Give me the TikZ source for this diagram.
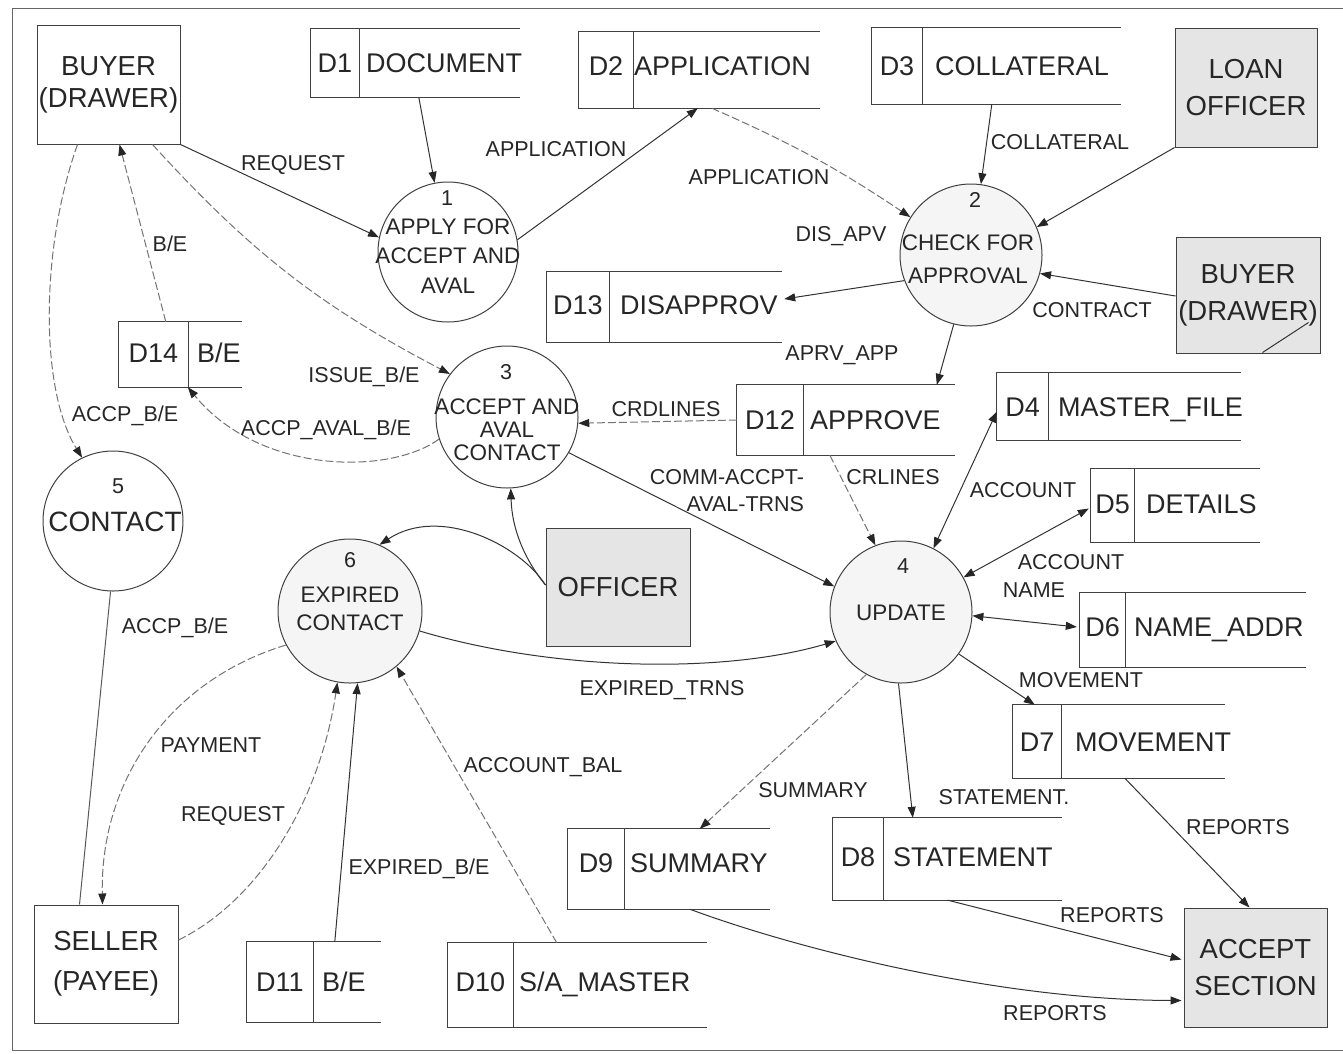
\documentclass[tikz,border=0pt]{standalone}
\usepackage{fontspec}
\setmainfont{Liberation Sans}
\usetikzlibrary{arrows.meta,calc}

\newcommand\fstore{\fontsize{27}{30}\selectfont}
\newcommand\fent{\fontsize{27.5}{37}\selectfont}
\newcommand\flab{\fontsize{21.5}{26}\selectfont}
\newcommand\fproc[1]{\fontsize{22.5}{#1}\selectfont}
\newcommand\stshift{0}

% data store: name, left, divider, right, top, bottom, id, title, gap
\newcommand\datastore[9]{%
  \node[inner sep=0, minimum width={#4pt-#2pt}, minimum height={#6pt-#5pt}] (#1) at ({(#2+#4)/2},{(#5+#6)/2}) {};
  \draw[storeline] (#1.north east) -- (#1.north west) -- (#1.south west) -- (#1.south east);
  \draw[storeline] (#3,#5) -- (#3,#6);
  \node[stxt] (#1-id) at ({(#2+#3)/2},{(#5+#6)/2+\stshift}) {#7};
  \node[stxt, anchor=west] (#1-name) at (#3+#9,{(#5+#6)/2+\stshift}) {#8};
}

\begin{document}
\begin{tikzpicture}[x=1pt,y=-1pt,
  every node/.style={text=black!85},
  tip/.tip={Triangle[length=11pt,width=8pt,color=black!85]},
  line/.style={draw=black!80, line width=1pt},
  faint/.style={draw=black!55, line width=1pt, dash pattern=on 8pt off 3pt},
  flow/.style={-tip},
  both/.style={tip-tip},
  storeline/.style={draw=black!75, line width=1pt},
  stxt/.style={font=\fstore, inner sep=0, text height=19pt, text depth=0pt},
  entity/.style={draw=black!75, line width=1pt, inner sep=0, align=center, font=\fent},
  shaded/.style={fill=black!10},
  proc/.style={circle, draw=black!75, line width=1pt, inner sep=0},
  lightfill/.style={fill=black!4},
  ptext/.style={inner sep=0, align=center},
  lbl/.style={font=\flab, inner sep=0, text height=15.5pt, text depth=0pt},
  frame/.style={draw=black!60, line width=1pt}]

\useasboundingbox (0,0) rectangle (1343,1053);
\draw[frame] (1343,8) -- (12,8) -- (12,1050) -- (1343,1050);

% external entities
\node[entity, minimum width=143, minimum height=119, font=\fontsize{27.5}{32}\selectfont] (buyer1) at (108.5,84.5) {BUYER\\(DRAWER)};
\node[entity, shaded, minimum width=142, minimum height=119] (loan) at (1246,87.5) {LOAN\\OFFICER};
\node[entity, shaded, minimum width=144, minimum height=116] (buyer2) at (1248,295) {BUYER\\(DRAWER)};
\node[entity, shaded, minimum width=144, minimum height=118] (officer) at (618,587) {OFFICER};
\node[entity, minimum width=144, minimum height=118, font=\fontsize{27.5}{40}\selectfont] (seller) at (106,964) {SELLER\\(PAYEE)};
\node[entity, shaded, minimum width=143, minimum height=119] (accept) at (1255.5,967.5) {ACCEPT\\SECTION};
\draw[line] ($(buyer2.south west)+(87,-1)$) -- ($(buyer2.south east)+(-12,-31)$);

% processes
\node[proc, minimum size=140] (p1) at (448,252) {};
\node[proc, lightfill, minimum size=142] (p2) at (971,255) {};
\node[proc, minimum size=142] (p3) at (507,417) {};
\node[proc, lightfill, minimum size=142] (p4) at (901,612) {};
\node[proc, minimum size=140] (p5) at (113,521) {};
\node[proc, lightfill, minimum size=144] (p6) at (350,611) {};

\node[lbl] (p1-n) at (447,198) {1};
\node[ptext, font=\fproc{29.5}] (p1-t) at (448,256) {APPLY FOR\\ACCEPT AND\\AVAL};
\node[lbl] (p2-n) at (975,200) {2};
\node[ptext, font=\fproc{33}] (p2-t) at (968,259) {CHECK FOR\\APPROVAL};
\node[lbl] (p3-n) at (506,372) {3};
\node[ptext, font=\fproc{23}] (p3-t) at (507,430) {ACCEPT AND\\AVAL\\CONTACT};
\node[lbl] (p4-n) at (903,566) {4};
\node[ptext, font=\fproc{26}] (p4-t) at (901,613) {UPDATE};
\node[lbl] (p5-n) at (118,486) {5};
\node[ptext, font=\fontsize{28}{30}\selectfont] (p5-t) at (115,522) {CONTACT};
\node[lbl] (p6-n) at (350,560) {6};
\node[ptext, font=\fproc{28}] (p6-t) at (350,609) {EXPIRED\\CONTACT};

% data stores
\datastore{d1}{311}{359}{520}{29}{97}{D1}{DOCUMENT}{7}
\renewcommand\stshift{-4}
\datastore{d2}{579}{633}{820}{32}{108}{D2}{APPLICATION}{1}
\renewcommand\stshift{0}
\datastore{d3}{872}{922}{1121}{28}{104}{D3}{COLLATERAL}{13}
\datastore{d12}{737}{803}{955}{385}{455}{D12}{APPROVE}{7}
\datastore{d4}{997}{1048}{1241}{373}{440}{D4}{MASTER\_FILE}{10}
\datastore{d7}{1013}{1061}{1225}{705}{778}{D7}{MOVEMENT}{14}
\datastore{d11}{247}{313}{381}{942}{1022}{D11}{B/E}{9}
\renewcommand\stshift{-2}
\datastore{d13}{547}{609}{782}{272}{342}{D13}{DISAPPROV}{11}
\datastore{d14}{119}{188}{242}{322}{387}{D14}{B/E}{9}
\datastore{d5}{1091}{1134}{1260}{469}{542}{D5}{DETAILS}{12}
\datastore{d8}{833}{883}{1062}{818}{900}{D8}{STATEMENT}{10}
\renewcommand\stshift{-3}
\datastore{d6}{1080}{1125}{1306}{593}{667}{D6}{NAME\_ADDR}{9}
\datastore{d10}{448}{513}{707}{943}{1027}{D10}{S/A\_MASTER}{6}
\renewcommand\stshift{-6}
\datastore{d9}{568}{624}{770}{829}{909}{D9}{SUMMARY}{6}

% data flows
\draw[line, flow] (buyer1.south east) -- (p1.168);
\draw[line, flow] ($(d1.south west)+(108,0)$) -- (p1.101);
\draw[line, flow] (p1.10) -- ($(d2.south west)+(119,0)$);
\draw[faint, flow] ($(d2.south west)+(133,0)$) to[bend left=5] (p2.148);
\draw[line, flow] ($(d3.south west)+(120,0)$) -- (p2.82);
\draw[line, flow] (loan.south west) -- (p2.23);
\draw[line, flow] ($(buyer2.west)+(0,1)$) -- (p2.-15);
\draw[line, flow] (p2.201) -- ($(d13.east)+(2,-8)$);
\draw[line, flow] (p2.256) -- ($(d12.north west)+(200,0)$);
\draw[faint, flow] (d12.west) -- (p3.-5);
\draw[faint, flow] ($(d12.south west)+(93,0)$) -- (p4.111);
\draw[line, both] (p4.63) -- ($(d4.west)+(0,5)$);
\draw[line, both] (p4.29) -- ($(d5.west)+(-2,3)$);
\draw[line, both] (p4.-3) -- ($(d6.west)+(-3,-3)$);
\draw[line, flow] (p4.-36) -- ($(d7.north west)+(22,0)$);
\draw[line, flow] (p4.268) -- ($(d8.north west)+(80,0)$);
\draw[faint, flow] (p4.241) -- ($(d9.north west)+(132,0)$);
\draw[line, flow] ($(d7.south west)+(112,0)$) -- ($(accept.north west)+(66,0)$);
\draw[line, flow] ($(d8.south west)+(115,0)$) -- ($(accept.west)+(-2,-8)$);
\draw[line, flow] ($(d9.south west)+(122,0)$) .. controls (800,950) and (1000,1000) .. ($(accept.west)+(-2,33)$);
\draw[line, flow] (p3.-30) -- (p4.159);
\draw[line, flow] (p6.-16) .. controls (550,670) and (720,675) .. (p4.204);
\draw[line, flow] ($(officer.west)+(0,-2)$) .. controls (525,560) and (512,530) .. (p3.273);
\draw[line, flow] ($(officer.west)+(0,-2)$) .. controls (520,545) and (440,505) .. (p6.66);
\draw[faint, flow] ($(buyer1.south west)+(116,0)$) to[bend right=10] (p3.143);
\draw[faint, flow] ($(d14.north west)+(47,0)$) -- ($(buyer1.south west)+(83,0)$);
\draw[faint, flow] (p3.198) .. controls (390,475) and (260,475) .. ($(d14.south west)+(69,0)$);
\draw[faint, flow] ($(buyer1.south west)+(41,0)$) .. controls (40,250) and (40,390) .. (p5.116);
\draw[line, draw=black!65] (p5.268) -- ($(seller.north west)+(46,0)$);
\draw[faint, flow] (p6.208) .. controls (170,680) and (100,780) .. ($(seller.north west)+(69,0)$);
\draw[faint, flow] ($(seller.east)+(0,-24)$) .. controls (260,900) and (320,800) .. (p6.260);
\draw[line, flow] ($(d11.north west)+(88,0)$) -- (p6.276);
\draw[faint, flow] ($(d10.north west)+(109,0)$) -- (p6.310);

% flow labels
\node[lbl] (t-req1) at (293,163) {REQUEST};
\node[lbl] (t-app1) at (556,149) {APPLICATION};
\node[lbl] (t-app2) at (759,177) {APPLICATION};
\node[lbl] (t-coll) at (1060,142) {COLLATERAL};
\node[lbl] (t-dis) at (841,234) {DIS\_APV};
\node[lbl] (t-contract) at (1092,310) {CONTRACT};
\node[lbl] (t-be) at (170,244) {B/E};
\node[lbl] (t-issue) at (364,375) {ISSUE\_B/E};
\node[lbl] (t-accp1) at (125,414) {ACCP\_B/E};
\node[lbl] (t-aval) at (326,428) {ACCP\_AVAL\_B/E};
\node[lbl] (t-aprv) at (842,353) {APRV\_APP};
\node[lbl] (t-crd) at (666,409) {CRDLINES};
\node[font=\fontsize{21.5}{27}\selectfont, inner sep=0, align=right] (t-comm) at (727,491) {COMM-ACCPT-\\AVAL-TRNS};
\node[lbl] (t-crl) at (893,477) {CRLINES};
\node[lbl] (t-acc1) at (1023,490) {ACCOUNT};
\node[lbl] (t-acc2) at (1071,562) {ACCOUNT};
\node[lbl] (t-name) at (1034,590) {NAME};
\node[lbl] (t-mov) at (1081,680) {MOVEMENT};
\node[lbl] (t-accp2) at (175,626) {ACCP\_B/E};
\node[lbl] (t-exptr) at (662,688) {EXPIRED\_TRNS};
\node[lbl] (t-pay) at (211,745) {PAYMENT};
\node[lbl] (t-bal) at (543,765) {ACCOUNT\_BAL};
\node[lbl] (t-sum) at (813,790) {SUMMARY};
\node[lbl] (t-stm) at (1004,797) {STATEMENT.};
\node[lbl] (t-rep1) at (1238,827) {REPORTS};
\node[lbl] (t-req2) at (233,814) {REQUEST};
\node[lbl] (t-expbe) at (419,867) {EXPIRED\_B/E};
\node[lbl] (t-rep2) at (1112,915) {REPORTS};
\node[lbl] (t-rep3) at (1055,1013) {REPORTS};
\end{tikzpicture}
\end{document}
